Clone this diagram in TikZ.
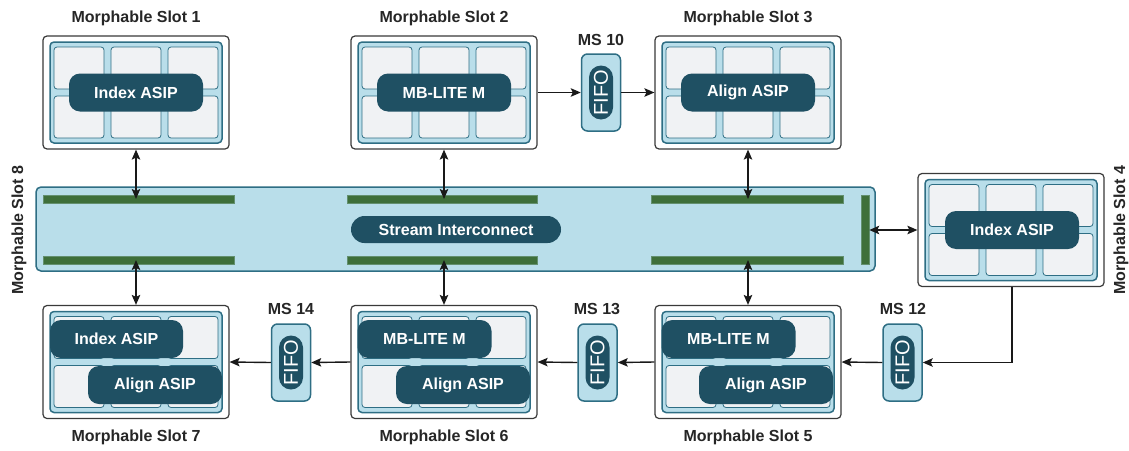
\documentclass[tikz,border=0pt]{standalone}
\usepackage{fontspec}
\setmainfont{Liberation Sans}
\usetikzlibrary{arrows.meta,calc}

\definecolor{pilldark}{HTML}{1F5063}
\definecolor{gridblue}{HTML}{B9DEEA}
\definecolor{gridline}{HTML}{2E6E84}
\definecolor{cellgray}{HTML}{F0F2F4}
\definecolor{busgreen}{HTML}{3E6F3A}
\definecolor{framegray}{HTML}{3A3A3A}

\tikzset{
  slotframe/.style={draw=framegray, line width=1.2pt, fill=white, rounded corners=4pt,
    minimum width=186pt, minimum height=113pt, inner sep=0pt},
  slotgrid/.style={draw=gridline, line width=1.5pt, fill=gridblue, rounded corners=4pt,
    minimum width=172pt, minimum height=101pt, inner sep=0pt},
  cell/.style={draw=gridline, line width=0.8pt, fill=cellgray, rounded corners=3pt,
    minimum width=50pt, minimum height=42pt, inner sep=0pt},
  unit/.style={fill=pilldark, rounded corners=11pt, minimum width=134pt, minimum height=38pt,
    inner sep=0pt, text=white, font=\bfseries\fontsize{16}{19}\selectfont},
  bus/.style={draw=gridline, line width=1.5pt, fill=gridblue, rounded corners=5pt,
    minimum width=839pt, minimum height=84pt, inner sep=0pt},
  busbar/.style={fill=busgreen, draw=busgreen!70!gridblue, line width=0.5pt,
    minimum height=8pt, inner sep=0pt},
  switchpill/.style={fill=pilldark, rounded corners=13.5pt, minimum width=210pt,
    minimum height=27pt, inner sep=0pt, text=white, font=\bfseries\fontsize{16}{19}\selectfont},
  fifobox/.style={draw=gridline, line width=1.5pt, fill=gridblue, rounded corners=6pt,
    minimum width=39pt, minimum height=77pt, inner sep=0pt},
  fifocore/.style={fill=pilldark, rounded corners=12pt, minimum width=54pt,
    minimum height=24pt, inner sep=0pt, rotate=90, text=white,
    font=\fontsize{20}{24}\selectfont},
  lbl/.style={font=\bfseries\fontsize{16}{19}\selectfont, text=black!85, inner sep=0pt},
  link/.style={line width=1.4pt, black!90, -{Stealth[length=10pt,width=8.5pt,inset=2pt]}},
  duplex/.style={line width=1.4pt, black!90,
    {Stealth[length=10pt,width=8.5pt,inset=2pt]}-{Stealth[length=10pt,width=8.5pt,inset=2pt]}},
}

% one morphable slot: outer frame, blue grid and its 2x3 cells
\newcommand{\morphslot}[3]{%
  \node[slotframe] (#1) at (#2,#3) {};
  \node[slotgrid] (#1g) at (#2,#3) {};
  \foreach \dx in {-57,0,57}
    \foreach \dy in {-24.5,24.5}
      \node[cell] at ({#2+\dx},{#3+\dy}) {};
}

\begin{document}
\begin{tikzpicture}[x=1pt, y=-1pt]
  \useasboundingbox[fill=white] (0,0) rectangle (1129,450);

  % stream interconnect
  \node[bus] (bus) at (455.5,229) {};
  \node[busbar, minimum width=191pt] (b1t) at (138.5,199) {};
  \node[busbar, minimum width=190pt] (b2t) at (442,199) {};
  \node[busbar, minimum width=192pt] (b3t) at (747,199) {};
  \node[busbar, minimum width=191pt] (b1b) at (138.5,260) {};
  \node[busbar, minimum width=190pt] (b2b) at (442,260) {};
  \node[busbar, minimum width=192pt] (b3b) at (747,260) {};
  \node[busbar, minimum width=8pt, minimum height=69pt] (bR) at (865,229.5) {};
  \node[switchpill] (sic) at (456,229.5) {Stream Interconnect};
  \node[lbl, rotate=90] (l8) at (19,230) {Morphable Slot 8};

  % upper slots
  \morphslot{s1}{136}{92.5}
  \node[unit] (u1) at (136,92.5) {Index ASIP};
  \node[lbl] (l1) at (136,18) {Morphable Slot 1};

  \morphslot{s2}{444}{92.5}
  \node[unit] (u2) at (444,92.5) {MB-LITE M};
  \node[lbl] (l2) at (444,18) {Morphable Slot 2};

  \morphslot{s3}{748}{92.5}
  \node[unit] (u3) at (748,92.5) {Align ASIP};
  \node[lbl] (l3) at (748,18) {Morphable Slot 3};

  % right slot
  \morphslot{s4}{1011}{230}
  \node[unit] (u4) at (1012,230) {Index ASIP};
  \node[lbl, rotate=90] (l4) at (1121,230) {Morphable Slot 4};

  % lower slots
  \morphslot{s7}{136}{362}
  \node[unit, minimum width=133pt] (u7a) at (116.5,339) {Index ASIP};
  \node[unit] (u7b) at (155,385) {Align ASIP};
  \node[lbl] (l7) at (136,437) {Morphable Slot 7};

  \morphslot{s6}{444}{362}
  \node[unit] (u6a) at (424.5,339) {MB-LITE M};
  \node[unit] (u6b) at (463,385) {Align ASIP};
  \node[lbl] (l6) at (444,437) {Morphable Slot 6};

  \morphslot{s5}{748}{362}
  \node[unit] (u5a) at (728.5,339) {MB-LITE M};
  \node[unit] (u5b) at (766,385) {Align ASIP};
  \node[lbl] (l5) at (748,437) {Morphable Slot 5};

  % FIFO slots
  \node[fifobox] (f10) at (601,92.5) {};
  \node[fifocore] (f10c) at (f10) {FIFO};
  \node[lbl] (m10) at (601,40) {MS 10};

  \node[fifobox] (f12) at (902.5,362.5) {};
  \node[fifocore] (f12c) at (f12) {FIFO};
  \node[lbl] (m12) at (903,309) {MS 12};

  \node[fifobox] (f13) at (597.5,362.5) {};
  \node[fifocore] (f13c) at (f13) {FIFO};
  \node[lbl] (m13) at (597,309) {MS 13};

  \node[fifobox] (f14) at (291,362.5) {};
  \node[fifocore] (f14c) at (f14) {FIFO};
  \node[lbl] (m14) at (291,309) {MS 14};

  % slot <-> interconnect
  \draw[duplex] (s1.south) -- (s1.south |- b1t.center);
  \draw[duplex] (s2.south) -- (s2.south |- b2t.center);
  \draw[duplex] (s3.south) -- (s3.south |- b3t.center);
  \draw[duplex] (s7.north) -- (s7.north |- b1b.center);
  \draw[duplex] (s6.north) -- (s6.north |- b2b.center);
  \draw[duplex] (s5.north) -- (s5.north |- b3b.center);
  \draw[duplex] (bR.east |- s4.west) -- (s4.west);

  % streaming chain through the FIFOs
  \draw[link] (s2.east) -- (f10.west);
  \draw[link] (f10.east) -- (s3.west);
  \draw[link] ([xshift=1pt]s4.south) |- (f12.east);
  \draw[link] (f12.west) -- (s5.east);
  \draw[link] (s5.west) -- (f13.east);
  \draw[link] (f13.west) -- (s6.east);
  \draw[link] (s6.west) -- (f14.east);
  \draw[link] (f14.west) -- (s7.east);
\end{tikzpicture}
\end{document}
